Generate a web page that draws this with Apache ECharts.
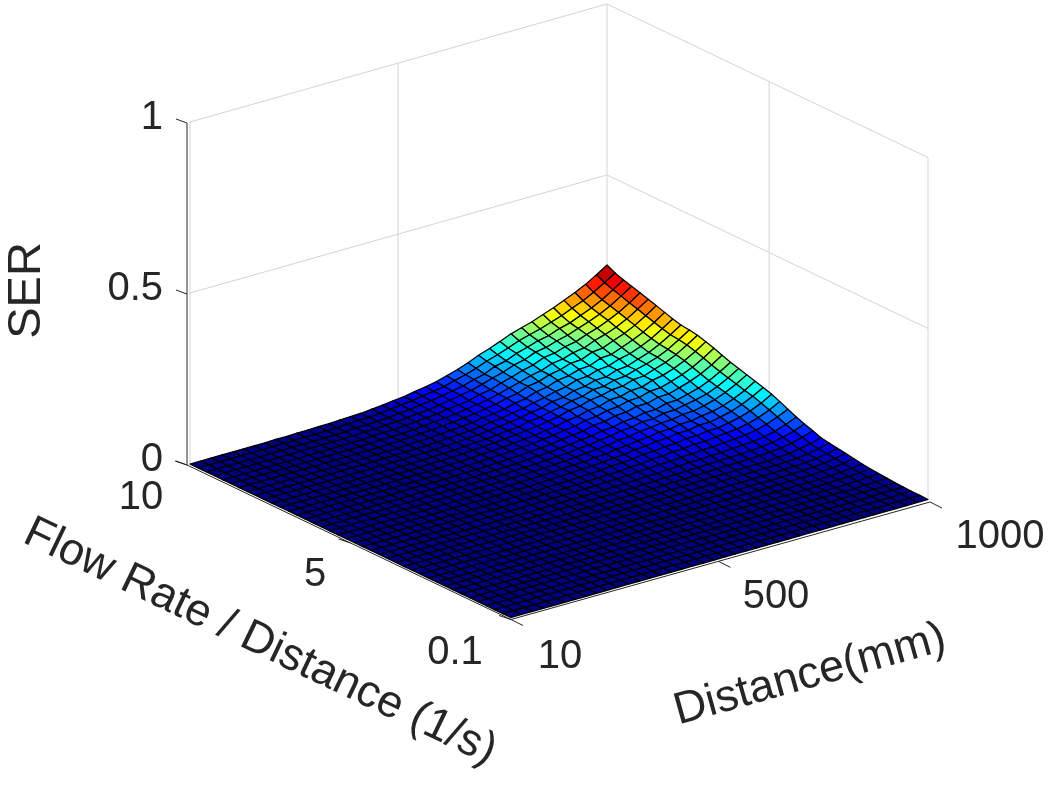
<!DOCTYPE html>
<html><head><meta charset="utf-8">
<style>html,body{margin:0;padding:0;background:#fff}#c{width:1048px;height:789px}</style>
<script src="https://cdn.jsdelivr.net/npm/echarts@6/dist/echarts.min.js"></script>
</head><body><div id="c"></div>
<script>
const distanceValues=[10,35,61,86,112,137,162,188,213,238,264,289,315,340,365,391,416,442,467,492,518,543,569,594,619,645,670,695,721,746,772,797,822,848,873,898,924,949,975,1000];
const flowValues=[0.1,0.35,0.61,0.86,1.12,1.37,1.62,1.88,2.13,2.38,2.64,2.89,3.15,3.4,3.65,3.91,4.16,4.42,4.67,4.92,5.18,5.43,5.69,5.94,6.19,6.45,6.7,6.95,7.21,7.46,7.72,7.97,8.22,8.48,8.73,8.98,9.24,9.49,9.75,10];
const distanceTicks=[10,500,1000], distanceTickLabels=['10','500','1000'];
const flowTicks=[0.1,5,10], flowTickLabels=['0.1','5','10'];
const serTicks=[0,0.5,1], serTickLabels=['0','0.5','1'];
// SER x 1000; one row per flow value (low to high), one column per distance value
const serMilli=[
[0,0,0,0,0,0,0,0,0,0,0,0,0,0,0,0,0,0,0,0,0,0,0,0,0,0,0,0,0,0,0,0,0,0,0,0,0,0,0,0],
[0,0,0,0,0,0,0,0,0,0,0,0,0,0,0,0,0,0,0,0,0,0,0,0,0,0,0,0,0,0,0,0,0,0,0,0,0,0,1,1],
[0,0,0,0,0,0,0,0,0,0,0,0,0,0,0,0,0,0,0,0,0,0,0,0,0,0,0,0,0,0,0,0,0,0,0,0,0,0,1,1],
[0,0,0,0,0,0,0,0,0,0,0,0,0,0,0,0,0,0,0,0,0,0,0,0,0,0,0,0,0,0,0,0,0,0,0,0,1,1,1,2],
[0,0,0,0,0,0,0,0,0,0,0,0,0,0,0,0,0,0,0,0,0,0,0,0,0,0,0,0,0,0,0,0,0,0,0,1,1,1,2,3],
[0,0,0,0,0,0,0,0,0,0,0,0,0,0,0,0,0,0,0,0,0,0,0,0,0,0,0,0,0,0,0,1,1,1,1,1,1,2,3,5],
[0,0,0,0,0,0,0,0,0,0,0,0,0,0,0,0,0,0,0,0,0,0,0,0,0,0,0,0,1,1,1,1,1,1,1,1,2,3,5,7],
[0,0,0,0,0,0,0,0,0,0,0,0,0,0,0,0,0,0,0,0,0,0,0,0,0,0,1,1,1,1,1,1,1,1,1,2,3,4,6,9],
[0,0,0,0,0,0,0,0,0,0,0,0,0,0,0,0,0,0,0,0,0,0,0,0,1,1,1,1,1,1,1,1,1,2,2,2,3,5,8,12],
[0,0,0,0,0,0,0,0,0,0,0,0,0,0,0,0,0,0,0,0,0,0,1,1,1,1,1,1,2,2,2,2,2,3,3,3,5,7,11,16],
[0,0,0,0,0,0,0,0,0,0,0,0,0,0,0,0,0,0,0,0,0,1,1,1,1,1,2,2,2,2,3,3,3,3,4,5,6,9,13,20],
[0,0,0,0,0,0,0,0,0,0,0,0,0,0,0,0,0,0,0,1,1,1,1,1,1,2,2,2,3,3,3,4,4,4,5,6,8,11,16,23],
[0,0,0,0,0,0,0,0,0,0,0,0,0,0,0,0,0,0,0,1,1,1,1,1,2,2,3,3,3,4,4,5,5,6,6,7,9,13,19,27],
[0,0,0,0,0,0,0,0,0,0,0,0,0,0,0,0,0,0,1,1,1,1,1,2,2,3,3,4,4,5,5,6,6,7,7,9,11,16,22,31],
[0,0,0,0,0,0,0,0,0,0,0,0,0,0,0,0,0,1,1,1,1,2,2,3,3,4,5,5,6,7,8,9,9,10,11,13,16,21,30,40],
[0,0,0,0,0,0,0,0,0,0,0,0,0,0,0,0,1,1,1,2,2,2,3,3,4,5,6,7,8,9,10,11,12,13,14,17,21,27,36,48],
[0,0,0,0,0,0,0,0,0,0,0,0,0,0,0,1,1,1,2,2,2,3,4,4,5,7,7,10,10,13,13,15,15,18,19,21,26,33,44,57],
[0,0,0,0,0,0,0,0,0,0,0,0,0,0,0,1,1,2,2,3,3,4,5,5,7,9,10,13,13,16,17,20,20,23,25,28,33,42,54,68],
[0,0,0,0,0,0,0,0,0,0,0,0,0,0,1,1,1,2,2,3,4,5,6,7,8,11,12,16,17,21,21,25,25,29,31,34,41,50,63,79],
[0,0,0,0,0,0,0,0,0,0,0,0,0,0,1,1,2,2,3,4,4,6,7,8,11,13,15,19,20,24,25,30,30,35,35,41,48,58,72,89],
[0,0,0,0,0,0,0,0,0,0,1,1,1,1,1,2,2,2,3,4,5,7,8,9,12,15,16,22,23,28,29,34,34,40,40,46,54,65,80,97],
[0,0,0,0,0,0,0,0,0,0,1,1,1,1,1,2,2,3,4,5,6,7,9,10,14,15,20,22,27,29,35,35,40,41,47,51,59,71,86,104],
[0,0,0,0,0,0,0,0,0,0,1,1,1,1,2,2,2,3,4,5,6,8,9,12,14,18,20,26,28,34,36,41,42,48,49,56,65,77,93,111],
[0,0,0,0,0,0,0,0,0,0,1,1,1,1,2,2,2,3,5,6,7,9,11,12,17,18,24,27,33,35,42,42,49,50,56,62,70,83,99,118],
[0,0,0,0,0,0,0,0,0,0,1,1,1,1,2,2,3,4,5,6,8,10,12,15,17,22,24,31,33,40,42,49,49,58,59,67,76,89,106,125],
[0,0,0,0,0,0,0,0,0,0,1,1,1,1,2,3,3,4,5,7,8,11,13,15,20,24,27,35,37,45,47,55,55,64,65,74,84,97,114,134],
[0,0,0,0,0,0,0,0,0,0,1,1,1,1,2,3,3,5,6,8,9,12,14,18,21,27,30,38,41,49,52,60,61,70,72,81,92,105,123,143],
[0,0,0,0,0,0,0,0,0,0,1,1,1,1,2,3,4,5,7,8,10,13,16,18,24,27,35,38,47,50,60,61,70,71,82,88,99,113,131,151],
[0,0,0,0,0,0,0,0,0,0,1,1,1,1,3,3,4,5,7,9,11,14,17,21,24,30,35,44,48,57,61,69,71,81,83,94,105,119,138,158],
[0,0,0,0,0,0,0,0,0,0,1,1,1,1,3,3,4,5,7,10,11,14,18,20,27,30,38,43,52,56,67,68,77,80,90,98,109,123,142,162],
[0,0,0,0,0,0,0,0,1,1,1,1,2,2,3,3,4,6,7,10,11,15,18,22,26,33,37,47,50,61,65,74,75,86,89,100,111,126,145,165],
[0,0,0,0,0,0,0,0,1,1,1,1,2,2,3,4,4,6,8,10,12,15,20,22,29,33,41,47,56,61,72,74,84,87,98,105,117,132,151,171],
[0,0,0,0,0,0,0,0,1,1,1,1,2,2,3,4,5,6,9,11,13,16,21,24,29,37,42,53,58,69,73,83,85,98,100,112,125,139,158,179],
[0,0,0,0,0,0,0,0,1,1,1,1,2,2,3,4,5,7,9,12,14,18,21,27,31,40,45,57,62,73,79,89,91,104,107,120,132,147,166,187],
[0,0,0,0,0,0,0,0,1,1,1,1,2,2,4,4,5,7,9,13,15,18,23,28,33,41,50,58,68,74,86,90,100,105,118,127,139,154,174,194],
[0,0,0,0,0,0,0,0,1,1,1,1,2,2,4,5,5,8,10,13,15,21,24,28,37,42,53,61,72,79,92,96,106,112,124,134,147,162,181,202],
[0,0,0,0,0,0,0,0,1,1,1,1,2,2,4,5,6,8,10,14,16,21,26,32,37,46,56,64,76,83,96,101,111,119,130,141,154,169,189,209],
[0,0,0,0,0,0,0,0,1,1,1,1,2,2,5,5,6,8,12,14,18,22,28,33,39,49,56,70,77,90,99,109,115,127,135,148,161,176,196,216],
[0,0,0,0,0,0,0,0,1,1,1,1,2,2,5,6,6,9,12,16,19,24,29,34,43,51,61,73,83,94,106,115,123,134,144,157,170,186,205,225],
[0,0,0,0,0,0,0,0,1,1,2,2,3,3,5,6,7,10,13,17,20,26,31,37,46,55,66,79,90,102,115,124,133,145,156,169,183,198,217,237]
];

const W=1048,H=789,FONT='"Liberation Sans",Arial,sans-serif',TXT='#262626';
const dMin=10,dMax=1000,fMin=0.1,fMax=10,zScale=342;
function frame(bottom,left,right){
  return (d,f,z)=>{
    const a=(d-dMin)/(dMax-dMin), b=(f-fMin)/(fMax-fMin);
    return [bottom[0]+a*(right[0]-bottom[0])+b*(left[0]-bottom[0]),
            bottom[1]+a*(right[1]-bottom[1])+b*(left[1]-bottom[1])-z*zScale];
  };
}
const wall=frame([511,617.5],[190,464],[928,499.5]);   // surface and back walls
const axis=frame([511,619.5],[187,465],[930,502]);     // front axis lines
function clamp(v){return Math.max(0,Math.min(1,v));}
function jet(t){
  const c=s=>Math.round(255*clamp(1.5-Math.abs(4*t-s)));
  return 'rgb('+c(3)+','+c(2)+','+c(1)+')';
}
const zMaxData=Math.max(...serMilli.map(r=>Math.max(...r)));
const cells=[];
for(let j=flowValues.length-2;j>=0;j--)for(let i=distanceValues.length-2;i>=0;i--)cells.push([i,j]);

function seg(api,p,q,color,w){
  const A=api.coord(p),B=api.coord(q);
  return {type:'line',shape:{x1:A[0],y1:A[1],x2:B[0],y2:B[1]},style:{stroke:color,lineWidth:w}};
}
function label(api,pos,text,size,rot,align){
  const P=api.coord(pos);
  return {type:'text',x:P[0],y:P[1],rotation:rot||0,style:{x:0,y:0,text:text,fill:TXT,font:size+'px '+FONT,align:align||'center',verticalAlign:'middle'}};
}
const GR='#d4d4d4',BK='#262626';
function renderWalls(params,api){
  if(params.dataIndex!==0)return null;
  const ch=[];
  [0,0.5,1].forEach(z=>{
    ch.push(seg(api,wall(dMin,fMax,z),wall(dMax,fMax,z),GR,1));
    ch.push(seg(api,wall(dMax,fMax,z),wall(dMax,fMin,z),GR,1));
  });
  ch.push(seg(api,wall(dMin,fMin,0),wall(dMin,fMax,0),GR,1.5));
  ch.push(seg(api,wall(dMin,fMin,0),wall(dMax,fMin,0),GR,1.5));
  ch.push(seg(api,wall(dMin,fMax,0),wall(dMin,fMax,1),GR,1));
  ch.push(seg(api,wall(dMax,fMax,0),wall(dMax,fMax,1),GR,1));
  ch.push(seg(api,wall(dMax,fMin,0),wall(dMax,fMin,1),GR,1));
  ch.push(seg(api,wall(504,fMax,0),wall(504,fMax,1),GR,1));
  ch.push(seg(api,wall(dMax,5,0),wall(dMax,5,1),GR,1));
  return {type:'group',children:ch};
}
function renderCell(params,api){
  const i=api.value(0),j=api.value(1);
  const c=[[i,j],[i+1,j],[i+1,j+1],[i,j+1]];
  let sum=0;
  const pts=c.map(([u,v])=>{
    const z=serMilli[v][u]/1000; sum+=z;
    return api.coord(wall(distanceValues[u],flowValues[v],z));
  });
  return {type:'polygon',shape:{points:pts},style:{fill:jet(sum/4/(zMaxData/1000)),stroke:'#000',lineWidth:1.25,lineJoin:'round'}};
}
function renderAxes(params,api){
  if(params.dataIndex!==0)return null;
  const ch=[], dx=[-12,-4], dy=[12,6], dz=[-11,-4];
  const off=(p,o)=>[p[0]+o[0],p[1]+o[1]];
  ch.push(seg(api,axis(dMin,fMax,0),axis(dMin,fMin,0),BK,1));
  ch.push(seg(api,axis(dMin,fMin,0),axis(dMax,fMin,0),BK,1));
  ch.push(seg(api,axis(dMin,fMax,0),axis(dMin,fMax,1),BK,1));
  serTicks.forEach(z=>{const p=axis(dMin,fMax,z);ch.push(seg(api,p,off(p,dz),BK,1));});
  flowTicks.forEach(f=>{const p=axis(dMin,f,0);ch.push(seg(api,p,off(p,dx),BK,1));});
  distanceTicks.forEach(d=>{const p=axis(d,fMin,0);ch.push(seg(api,p,off(p,dy),BK,1));});
  const S=40;
  serTicks.forEach((z,k)=>{const p=axis(dMin,fMax,z);ch.push(label(api,[163,p[1]-5.5],serTickLabels[k],S,0,'right'));});
  const flowPos=[[455,653],[315,575],[141,498]];
  flowTicks.forEach((f,k)=>ch.push(label(api,flowPos[k],flowTickLabels[k],S)));
  const distPos=[[560,657],[776,597],[1000,537]];
  distanceTicks.forEach((d,k)=>ch.push(label(api,distPos[k],distanceTickLabels[k],S)));
  ch.push(label(api,[27,290.5],'SER',47,Math.PI/2));
  ch.push(label(api,[810,675],'Distance(mm)',45,0.272));
  ch.push(label(api,[260,642],'Flow Rate / Distance (1/s)',45,-0.446));
  return {type:'group',children:ch};
}
const chart=echarts.init(document.getElementById('c'),null,{renderer:'canvas',width:W,height:H});
chart.setOption({
  animation:false,
  backgroundColor:'#fff',
  grid:{left:0,right:0,top:0,bottom:0},
  xAxis:{type:'value',min:0,max:W,show:false},
  yAxis:{type:'value',min:0,max:H,inverse:true,show:false},
  series:[
    {type:'custom',coordinateSystem:'cartesian2d',clip:false,silent:true,renderItem:renderWalls,data:[[0,0]],z:1},
    {type:'custom',coordinateSystem:'cartesian2d',clip:false,silent:true,progressive:0,renderItem:renderCell,data:cells,encode:{x:0,y:1},z:2},
    {type:'custom',coordinateSystem:'cartesian2d',clip:false,silent:true,renderItem:renderAxes,data:[[0,0]],z:3}
  ]
});
</script></body></html>
